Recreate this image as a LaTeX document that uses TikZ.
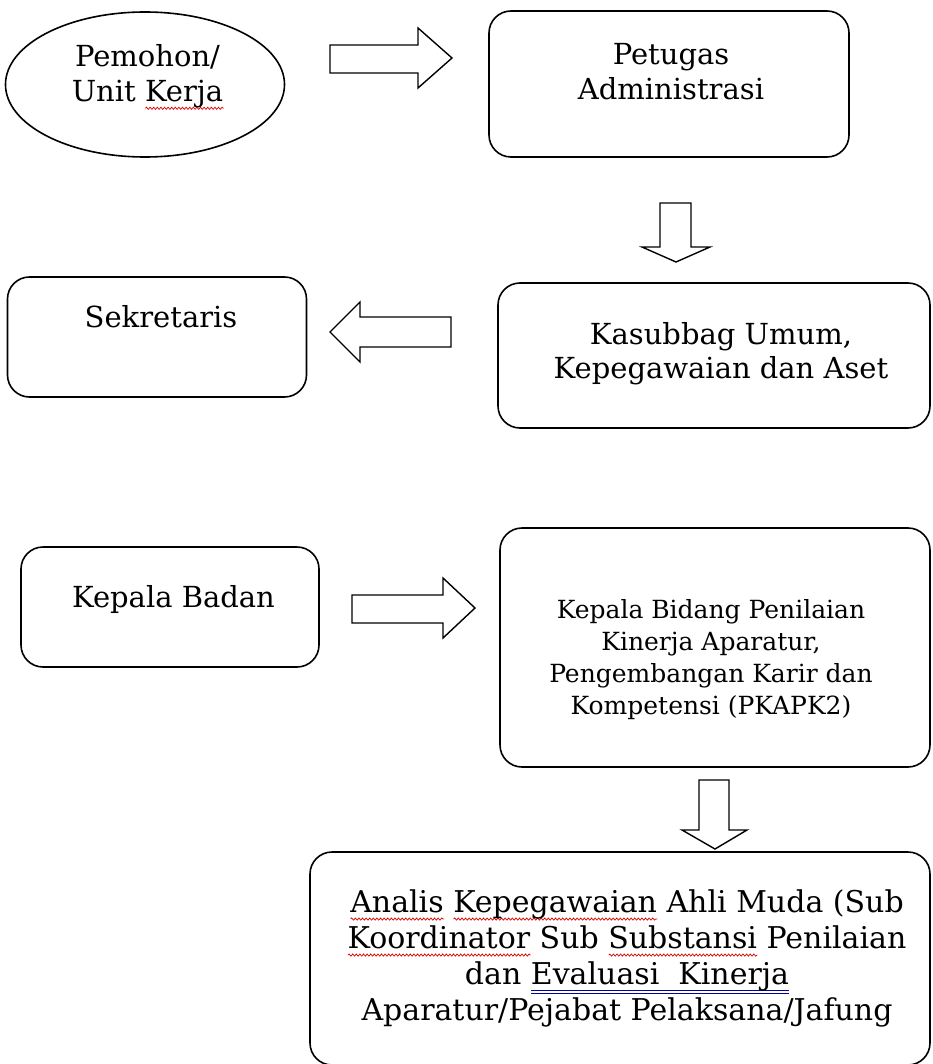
\documentclass[tikz,border=0pt]{standalone}
\usepackage{fontspec}
\setmainfont{DejaVu Serif}
\usetikzlibrary{shapes.geometric,decorations.pathmorphing}
\newsavebox\wbox
\newcommand\redsq[1]{\sbox\wbox{#1}\rlap{\tikz[baseline=0pt]\draw[red!85!black, line width=0.7pt, decorate, decoration={snake, amplitude=1.1pt, segment length=3.6pt}] (0pt,-7pt) -- (\wd\wbox,-7pt);}\usebox\wbox}
\newcommand\bluedu[1]{\sbox\wbox{#1}\rlap{\tikz[baseline=0pt]{\draw[blue!65!black, line width=0.8pt] (0pt,-6.5pt) -- (\wd\wbox,-6.5pt) (0pt,-9pt) -- (\wd\wbox,-9pt);}}\usebox\wbox}
\tikzset{
  box/.style={draw, line width=1.6pt, rounded corners=22pt, inner sep=0pt},
  oval/.style={draw, line width=1.6pt, ellipse, inner sep=0pt},
  blk/.style={draw, line width=1.4pt, fill=white, line join=miter},
  txt/.style={align=center, inner sep=0pt, font=\fontsize{29}{35}\selectfont},
  txtsm/.style={align=center, inner sep=0pt, font=\fontsize{25}{32}\selectfont},
  txtbig/.style={align=center, inner sep=0pt, font=\fontsize{30}{36}\selectfont},
}
\begin{document}
\begin{tikzpicture}[x=1pt,y=-1pt]
\useasboundingbox (0,0) rectangle (932,1064);
% shapes
\node[oval, minimum width=279pt, minimum height=145pt] (pem) at (145,84.5) {};
\node[box, minimum width=360pt, minimum height=146pt] (pet) at (669,84) {};
\node[box, minimum width=299pt, minimum height=120pt] (sek) at (157,337) {};
\node[box, minimum width=432pt, minimum height=145pt] (kas) at (714,355.5) {};
\node[box, minimum width=298pt, minimum height=120pt] (kb) at (170,607) {};
\node[box, minimum width=430pt, minimum height=239pt] (kbid) at (715,647.5) {};
\node[box, minimum width=620pt, minimum height=213pt] (ana) at (620,958.5) {};
% texts
\node[txt] (tpem) at (147.5,77) {Pemohon/\\Unit \redsq{Kerja}};
\node[txt] (tpet) at (671,72) {Petugas\\Administrasi};
\node[txt] (tsek) at (161,317) {Sekretaris};
\node[txt, font=\fontsize{29}{34}\selectfont] (tkas) at (721,354) {Kasubbag Umum,\\Kepegawaian dan Aset};
\node[txt] (tkb) at (173.5,599) {Kepala Badan};
\node[txtsm] (tkbid) at (711,660) {Kepala Bidang Penilaian\\Kinerja Aparatur,\\Pengembangan Karir dan\\Kompetensi (PKAPK2)};
\node[txtbig] (tana) at (627,958) {\redsq{Analis} \redsq{Kepegawaian} Ahli Muda (Sub\\\redsq{Koordinator} Sub \redsq{Substansi} Penilaian\\dan \bluedu{Evaluasi~ Kinerja}\\Aparatur/Pejabat Pelaksana/Jafung};
% block arrows
\draw[blk] (330,45) -- (418,45) -- (418,28) -- (452,58) -- (418,88) -- (418,73) -- (330,73) -- cycle;
\draw[blk] (660,203) -- (691,203) -- (691,247) -- (710,247) -- (676,262) -- (642,247) -- (660,247) -- cycle;
\draw[blk] (451,317) -- (360,317) -- (360,302) -- (330,332) -- (360,362) -- (360,347) -- (451,347) -- cycle;
\draw[blk] (352,595) -- (443,595) -- (443,578) -- (475,608) -- (443,638) -- (443,623) -- (352,623) -- cycle;
\draw[blk] (699,780) -- (729,780) -- (729,830) -- (747,830) -- (715,849) -- (682,830) -- (699,830) -- cycle;
\end{tikzpicture}
\end{document}
